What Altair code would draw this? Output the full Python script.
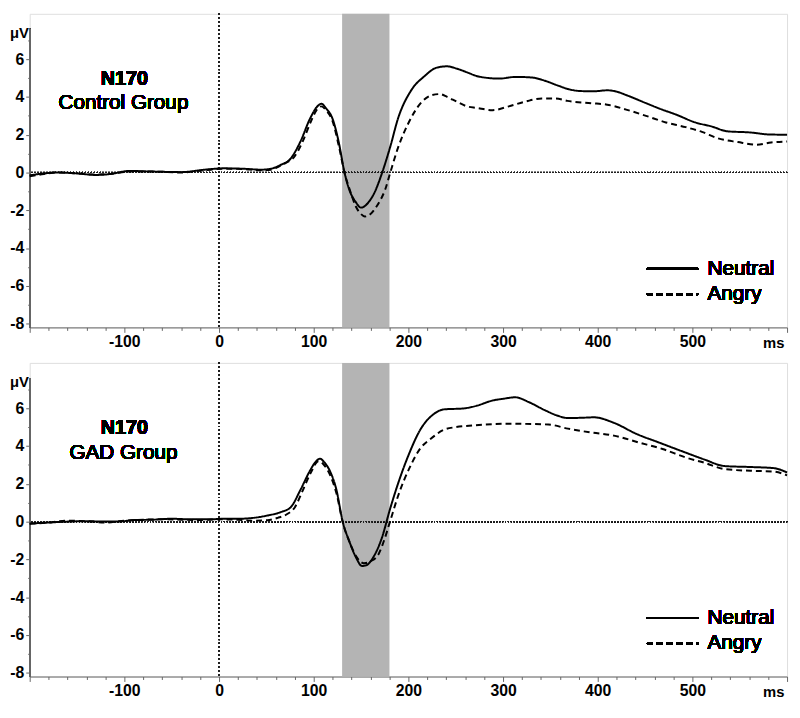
import altair as alt
import pandas as pd

# ---------------- data ----------------
TIME_WINDOW = [130, 180]            # shaded N170 window (ms)
CONDITIONS = ["Neutral", "Angry"]
GROUPS = ["Control Group", "GAD Group"]

ctrl_neutral_t = [-200, -185, -170, -150, -130, -115, -95, -70, -40, -15, 5, 25, 45, 55, 65, 75, 86, 96, 103, 108,
                  113, 120, 127, 132, 137.5, 144.5, 150, 158, 165, 172, 181, 189, 203, 217, 230, 241, 251, 262, 272,
                  285, 296, 313, 330, 344, 358, 370, 382, 396, 410, 420, 430, 451, 468, 482, 503, 520, 537, 561, 582, 600]
ctrl_neutral_v = [-0.15, -0.05, 0.0, -0.05, -0.13, -0.08, 0.08, 0.05, 0.02, 0.15, 0.22, 0.2, 0.15, 0.2, 0.4, 0.7, 1.64,
                  2.84, 3.45, 3.64, 3.4, 2.83, 1.47, 0.12, -0.9, -1.57, -1.86, -1.57, -0.98, -0.05, 1.39, 2.85, 4.35,
                  5.1, 5.55, 5.62, 5.5, 5.3, 5.11, 5.0, 4.97, 5.06, 5.03, 4.86, 4.6, 4.4, 4.31, 4.3, 4.35, 4.28, 4.1,
                  3.67, 3.33, 3.08, 2.65, 2.44, 2.18, 2.12, 2.01, 2.0]

ctrl_angry_t = [-200, -185, -170, -150, -130, -115, -95, -70, -40, -15, 5, 25, 45, 55, 62, 70, 79, 88, 97, 103, 108,
                113, 120, 127, 133, 138, 144.5, 150, 154, 160, 165, 170, 175.5, 180.6, 189, 199.6, 213, 225, 233, 241,
                251, 262, 272, 289, 306, 324, 341, 355, 368, 393, 410, 430, 451, 472, 493, 510, 527, 548, 568, 583, 600]
ctrl_angry_v = [-0.2, -0.08, 0.0, -0.05, -0.1, -0.08, 0.05, 0.05, 0.0, 0.12, 0.2, 0.18, 0.12, 0.15, 0.29, 0.5, 0.8,
                1.6, 2.7, 3.3, 3.5, 3.3, 2.7, 1.3, -0.1, -0.9, -1.8, -2.2, -2.33, -2.2, -1.9, -1.5, -0.9, -0.05, 1.3,
                2.57, 3.67, 4.1, 4.15, 4.0, 3.75, 3.5, 3.42, 3.3, 3.5, 3.76, 3.92, 3.92, 3.79, 3.67, 3.59, 3.33, 3.0,
                2.65, 2.4, 2.15, 1.81, 1.61, 1.47, 1.59, 1.64]

gad_neutral_t = [-200, -180, -160, -140, -120, -107, -90, -70, -50, -30, -10, 5, 20, 33, 51, 65, 75.5, 86, 96, 101,
                 106.5, 111, 117, 124, 130.6, 137.5, 144.5, 151, 156, 162, 172, 180.6, 189, 199.6, 213, 227, 237.5,
                 258, 272, 289, 300, 313, 327, 344, 358, 368.6, 385, 396, 417, 441, 465, 493, 513, 534, 561, 586, 600]
gad_neutral_v = [-0.1, -0.05, 0.0, 0.02, 0.0, 0.0, 0.08, 0.1, 0.15, 0.12, 0.12, 0.15, 0.15, 0.18, 0.32, 0.5, 0.75,
                 1.68, 2.69, 3.1, 3.33, 3.15, 2.69, 1.68, 0.0, -1.03, -1.88, -2.35, -2.3, -1.96, -0.86, 0.66, 2.0,
                 3.45, 4.9, 5.7, 5.94, 5.99, 6.13, 6.41, 6.5, 6.58, 6.33, 5.9, 5.6, 5.48, 5.5, 5.52, 5.23, 4.64, 4.18,
                 3.65, 3.28, 2.94, 2.89, 2.83, 2.6]

gad_angry_t = [-200, -180, -160, -140, -120, -100, -80, -60, -40, -20, 0, 20, 35, 51, 62, 72, 80, 88, 97, 105, 110,
               117, 124, 131, 138, 145, 153, 160, 168.6, 175, 180.6, 189, 203, 213, 223.6, 237.5, 250, 268.5, 306, 348,
               368.5, 392.6, 417, 444, 468.5, 492.6, 513, 534, 561.5, 585.6, 600]
gad_angry_v = [-0.12, -0.05, 0.05, 0.02, -0.05, 0.05, 0.1, 0.12, 0.1, 0.08, 0.12, 0.1, 0.05, 0.07, 0.2, 0.4, 0.75,
               1.6, 2.6, 3.2, 3.05, 2.5, 1.5, -0.1, -1.1, -1.85, -2.2, -2.1, -1.71, -0.9, 0.0, 1.34, 3.03, 3.9, 4.38,
               4.86, 5.0, 5.09, 5.18, 5.14, 4.92, 4.72, 4.55, 4.18, 3.84, 3.4, 3.11, 2.78, 2.69, 2.65, 2.45]

# ---------------- table ----------------
frames = []
for grp, cond, t, v in [
    (GROUPS[0], "Neutral", ctrl_neutral_t, ctrl_neutral_v),
    (GROUPS[0], "Angry", ctrl_angry_t, ctrl_angry_v),
    (GROUPS[1], "Neutral", gad_neutral_t, gad_neutral_v),
    (GROUPS[1], "Angry", gad_angry_t, gad_angry_v),
]:
    frames.append(pd.DataFrame({"group": grp, "condition": cond, "time": t, "value": v}))
df = pd.concat(frames, ignore_index=True)

# ---------------- styling ----------------
W, H = 768, 318
XDOM = [-200, 600]
YDOM = [-8.2, 8.4]
FONT = "Liberation Sans, Arial, sans-serif"
AXIS_GRAY = "#666666"

xscale = alt.Scale(domain=XDOM, nice=False, zero=False)
yscale = alt.Scale(domain=YDOM, nice=False, zero=False)
dash_scale = alt.Scale(domain=CONDITIONS, range=[[1, 0], [6, 4]])

x_axis = alt.Axis(
    values=list(range(-200, 601, 20)),
    labelExpr="(datum.value % 100 === 0 && datum.value > -200 && datum.value < 600) ? '' + datum.value : ''",
    labelOverlap=False, labelFlush=False,
    tickSize={"condition": {"test": "datum.value % 100 === 0", "value": 5}, "value": 3},
    labelFont=FONT, labelFontSize=16, labelFontWeight="bold", labelColor="black", labelPadding=1,
    domainColor=AXIS_GRAY, tickColor=AXIS_GRAY, grid=False,
    title="ms", titleFont=FONT, titleFontSize=15, titleFontWeight="bold", titleColor="black",
    titleX=W - 14, titleY=15, titleAlign="center", titleBaseline="middle", titleAngle=0,
)
y_axis = alt.Axis(
    values=list(range(-8, 8)),
    labelExpr="datum.value % 2 === 0 ? '' + datum.value : ''",
    labelOverlap=False, labelFlush=False,
    tickSize={"condition": {"test": "datum.value % 2 === 0", "value": 4}, "value": 2},
    labelFont=FONT, labelFontSize=16, labelFontWeight="bold", labelColor="black", labelPadding=2,
    domain=False, tickColor=AXIS_GRAY, grid=False,
    title="μV", titleFont=FONT, titleFontSize=15, titleFontWeight="bold", titleColor="black",
    titleX=-11, titleY=19, titleAlign="center", titleBaseline="middle", titleAngle=0,
)


def xd(v):
    return alt.XDatum(v, scale=xscale, axis=x_axis)


def yd(v):
    return alt.YDatum(v, scale=yscale, axis=y_axis)


def panel(group):
    base = alt.Chart(df[df["group"] == group])
    lines = base.mark_line(color="black", strokeWidth=2, interpolate="monotone").encode(
        x=alt.X("time:Q", scale=xscale, axis=x_axis),
        y=alt.Y("value:Q", scale=yscale, axis=y_axis),
        strokeDash=alt.StrokeDash("condition:N", scale=dash_scale, legend=None),
        detail="condition:N",
    )
    window = alt.Chart(pd.DataFrame({"start": [TIME_WINDOW[0]], "end": [TIME_WINDOW[1]]})).mark_rect(
        color="#b4b4b4"
    ).encode(
        x=alt.X("start:Q", scale=xscale, axis=x_axis), x2="end:Q",
        y=alt.value(0), y2=alt.value(H),
    )
    zero_h = base.mark_rule(color="#222222", strokeWidth=1, strokeDash=[1, 2]).encode(y=yd(0))
    zero_v = base.mark_rule(color="#222222", strokeWidth=1, strokeDash=[1, 3]).encode(x=xd(0))
    y_line = base.mark_rule(color=AXIS_GRAY, strokeWidth=1).encode(
        x=xd(XDOM[0]), y=yd(YDOM[0]), y2=alt.Y2Datum(7.6)
    )
    title1 = base.mark_text(font=FONT, fontSize=20, fontWeight="bold", color="black").encode(
        x=xd(-100), y=yd(4.95), text=alt.value("N170")
    )
    title2 = base.mark_text(font=FONT, fontSize=21, color="black").encode(
        x=xd(-101), y=yd(3.65), text=alt.value(group)
    )
    leg_layers = []
    for cond, ly, dash in [("Neutral", -5.1, [1, 0]), ("Angry", -6.45, [6, 4])]:
        leg_layers.append(
            base.mark_rule(color="black", strokeWidth=2, strokeDash=dash).encode(
                x=xd(452), x2=alt.X2Datum(506), y=yd(ly)
            )
        )
        leg_layers.append(
            base.mark_text(font=FONT, fontSize=21, color="black", align="left", baseline="middle").encode(
                x=xd(516), y=yd(ly), text=alt.value(cond)
            )
        )
    return alt.layer(window, zero_h, zero_v, y_line, lines, title1, title2, *leg_layers).properties(
        width=W, height=H
    )


chart = alt.vconcat(panel(GROUPS[0]), panel(GROUPS[1]), spacing=36, bounds="flush").properties(
    padding=0
).configure_view(strokeWidth=0).configure(background="white")

chart.save("out.html", embed_options={"renderer": "svg", "actions": False})
